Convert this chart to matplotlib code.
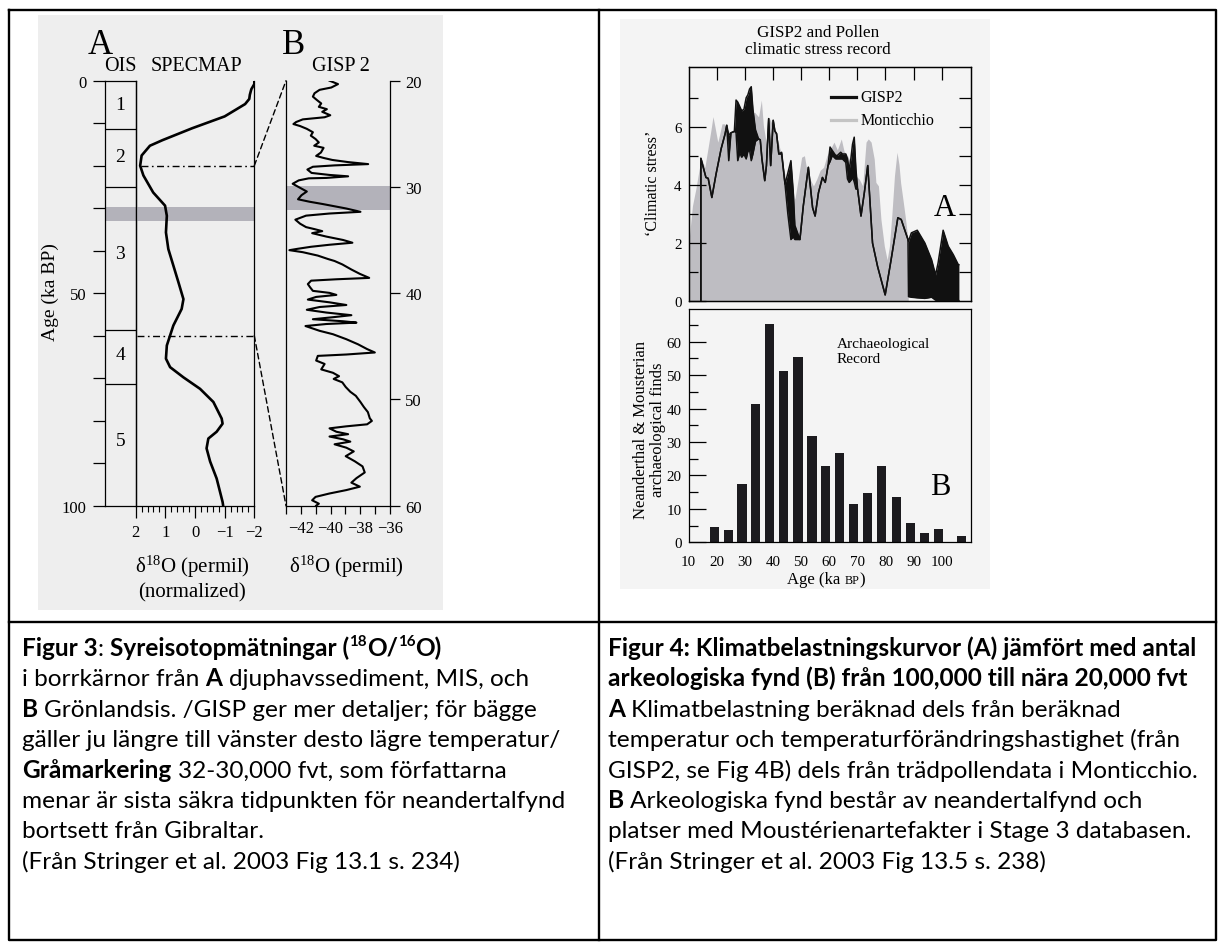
import matplotlib
matplotlib.use("Agg")
import matplotlib.pyplot as plt
from matplotlib.patches import Rectangle, ConnectionPatch
from matplotlib.lines import Line2D
from matplotlib.transforms import IdentityTransform
from matplotlib.font_manager import FontProperties
from matplotlib.ticker import MultipleLocator, FixedLocator

# ---------------- data ----------------
# Figure 3A: OIS stages and SPECMAP curve (age ka, d18O normalized)
OIS_BOUNDS = [11.4, 24.9, 58.6, 71.4]
OIS_LABELS = [("1", 5.6), ("2", 17.8), ("3", 40.7), ("4", 64.5), ("5", 84.6)]
GRAY_BAND_A = (29.6, 32.9)
GRAY_BAND_B = (29.9, 32.2)
SPECMAP = [(0, -2.0), (0.8, -2.0), (2.0, -1.9), (3.3, -1.85), (4.3, -1.83), (5.5, -1.69),
           (8.4, -1.0), (11.2, 0.1), (14.0, 1.1), (15.3, 1.52), (17.6, 1.80), (20.0, 1.85),
           (22.3, 1.74), (24.0, 1.6), (26.3, 1.41), (29.4, 1.01), (31.8, 0.95), (35.7, 0.98),
           (39.6, 0.90), (43.5, 0.73), (47.4, 0.56), (51.4, 0.39), (53.7, 0.45), (57.6, 0.73),
           (62.3, 0.95), (65.4, 0.98), (67.4, 0.84), (69.8, 0.39), (72.5, -0.17), (75.6, -0.62),
           (79.5, -0.90), (80.7, -0.93), (82.6, -0.73), (84.2, -0.45), (86.5, -0.39),
           (89.6, -0.51), (93.6, -0.73), (99.1, -0.93), (100.0, -0.95)]
# Figure 3B: GISP2 d18O (age ka, permil)
GISP_B = [(20.00, -40.07), (20.32, -39.50), (20.64, -39.95), (20.86, -40.74), (21.18, -41.08),
          (21.50, -41.19), (21.82, -40.92), (22.14, -40.63), (22.46, -40.79), (22.68, -40.25),
          (22.93, -40.56), (23.25, -40.02), (23.44, -40.40), (23.57, -41.31), (23.64, -41.87),
          (23.89, -42.32), (24.08, -42.50), (24.27, -42.05), (24.53, -41.60), (24.85, -41.19),
          (25.17, -41.33), (25.49, -41.01), (25.81, -40.79), (26.12, -41.10), (26.32, -40.47),
          (26.76, -40.65), (27.08, -40.97), (27.27, -40.47), (27.46, -39.88), (27.66, -38.82),
          (27.85, -37.47), (27.97, -39.73), (28.10, -41.19), (28.36, -41.56), (28.68, -41.28),
          (28.87, -40.07), (29.00, -38.82), (29.15, -40.29), (29.19, -41.47), (29.38, -42.14),
          (29.70, -42.55), (30.02, -42.14), (30.43, -41.60), (30.78, -41.96), (31.16, -42.19),
          (31.39, -41.42), (31.61, -40.52), (32.03, -38.94), (32.34, -37.99), (32.50, -40.07),
          (32.70, -41.65), (33.08, -42.37), (33.46, -42.05), (33.78, -41.65), (33.97, -41.08),
          (34.16, -40.56), (34.35, -41.24), (34.67, -40.29), (34.99, -39.16), (35.25, -38.53),
          (35.44, -40.07), (35.63, -41.31), (35.82, -42.21), (35.95, -42.77), (36.14, -41.87),
          (36.46, -40.86), (36.78, -40.18), (36.97, -39.73), (37.29, -39.21), (37.77, -38.60),
          (38.18, -38.03), (38.56, -37.40), (38.69, -39.61), (38.82, -41.31), (39.14, -41.53),
          (39.46, -41.37), (39.78, -41.19), (39.97, -40.07), (40.16, -39.61), (40.35, -40.97),
          (40.60, -41.53), (40.86, -40.07), (41.11, -38.94), (41.30, -40.74), (41.56, -41.60),
          (41.82, -40.29), (42.07, -38.60), (42.26, -39.84), (42.45, -41.19), (42.64, -39.16),
          (42.77, -38.26), (42.90, -40.29), (43.09, -41.69), (43.54, -40.74), (43.86, -39.84),
          (44.33, -38.94), (44.81, -38.15), (45.26, -37.54), (45.58, -37.02), (45.77, -38.94),
          (45.90, -40.86), (46.34, -40.97), (46.66, -40.40), (47.17, -40.63), (47.49, -39.84),
          (47.81, -39.43), (48.07, -39.79), (48.39, -39.21), (48.83, -38.98), (49.28, -38.67),
          (49.66, -38.30), (50.24, -37.99), (50.71, -37.76), (51.19, -37.49), (51.77, -37.36),
          (52.02, -37.22), (52.34, -37.54), (52.53, -38.94), (52.72, -40.07), (53.04, -39.61),
          (53.27, -38.82), (53.49, -40.07), (53.75, -39.16), (53.97, -38.67), (54.22, -39.73),
          (54.54, -38.94), (54.89, -38.44), (55.34, -38.98), (55.82, -38.37), (56.30, -37.85),
          (56.87, -37.70), (57.41, -38.26), (57.83, -38.60), (58.21, -38.03), (58.53, -38.94),
          (58.85, -40.07), (59.17, -41.01), (59.49, -41.24), (59.81, -40.79), (60.00, -40.97)]

# Figure 4A: climatic stress. GISP2 band (age, upper, lower); Monticchio (age, value)
GISP2_STRESS = [(14.4, 0.0, 0.0), (14.4, 4.91, 4.91), (16.2, 4.25, 4.25), (17.0, 4.22, 4.22),
                (18.3, 3.56, 3.56), (19.8, 4.37, 4.37), (21.6, 5.24, 5.24), (23.0, 5.75, 5.75),
                (23.6, 6.05, 6.05), (24.3, 5.70, 4.83), (25.1, 5.79, 5.79), (26.3, 5.84, 5.84),
                (26.9, 6.92, 5.80), (27.5, 6.85, 4.83), (28.2, 6.70, 5.10), (28.9, 6.55, 4.95),
                (29.7, 6.60, 5.05), (30.5, 7.00, 4.89), (31.1, 7.10, 5.15), (31.7, 7.30, 5.20),
                (32.3, 7.38, 4.83), (32.9, 6.60, 5.06), (33.8, 5.90, 5.50), (34.9, 5.58, 5.58),
                (35.5, 5.55, 5.55), (36.1, 4.89, 4.89), (37.1, 4.14, 4.14), (37.7, 4.66, 4.66),
                (38.5, 6.28, 6.28), (39.2, 4.66, 4.66), (40.1, 6.22, 6.22), (40.7, 5.85, 5.85),
                (41.3, 5.76, 5.76), (42.1, 5.06, 5.06), (43.1, 5.12, 5.06), (44.3, 4.02, 4.02),
                (45.3, 4.40, 3.00), (46.4, 4.83, 2.11), (47.2, 3.80, 2.20), (47.8, 2.60, 2.11),
                (49.6, 2.11, 2.11), (50.8, 3.27, 3.27), (52.6, 4.60, 4.60), (54.1, 3.21, 3.21),
                (55.0, 2.92, 2.92), (56.2, 3.73, 3.73), (57.6, 4.25, 4.25), (58.6, 4.08, 4.08),
                (59.6, 4.66, 4.66), (60.3, 5.30, 4.80), (61.1, 5.18, 5.01), (62.3, 5.01, 4.89),
                (62.9, 5.01, 4.89), (64.1, 5.12, 4.89), (64.7, 5.06, 4.89), (65.9, 5.06, 4.77),
                (66.5, 4.89, 4.20), (67.1, 4.50, 4.08), (67.7, 4.89, 4.15), (68.3, 5.40, 4.25),
                (68.9, 5.64, 4.10), (69.5, 4.54, 3.85), (70.1, 3.85, 3.85), (71.3, 2.92, 2.92),
                (72.5, 3.73, 3.73), (73.7, 4.66, 4.66), (74.3, 3.73, 3.73), (75.4, 1.99, 1.99),
                (77.2, 1.18, 1.18), (79.9, 0.20, 0.20), (82.0, 1.41, 1.41), (84.4, 2.86, 2.86),
                (85.6, 2.80, 2.80), (88.0, 2.11, 2.11), (88.2, 2.05, 0.14), (89.2, 2.34, 0.12),
                (91.3, 2.43, 0.10), (94.0, 1.99, 0.08), (96.4, 1.41, 0.12), (97.8, 0.89, 0.02),
                (98.7, 1.30, 0.0), (100.5, 2.43, 0.0), (102.3, 1.88, 0.0), (104.1, 1.59, 0.0),
                (105.9, 1.24, 0.0), (106.1, 1.24, 0.0)]
MONTICCHIO = [(9.4, 0.83), (10.2, 2.1), (11.4, 3.27), (12.6, 3.85), (13.8, 4.54), (14.6, 4.9),
              (15.8, 4.6), (17.0, 5.3), (18.0, 5.9), (18.7, 6.35), (19.4, 6.0), (20.4, 5.47),
              (21.1, 5.75), (21.9, 6.1), (22.8, 6.1), (23.9, 5.9), (25.1, 5.76), (26.3, 5.9),
              (28.1, 6.3), (29.9, 6.2), (31.7, 6.4), (33.5, 6.5), (34.9, 6.34), (35.9, 6.92),
              (36.6, 6.05), (37.7, 5.4), (38.9, 6.28), (40.1, 6.0), (41.3, 5.70), (42.5, 5.24),
              (43.7, 4.66), (44.9, 4.0), (46.1, 4.89), (46.7, 4.0), (47.8, 3.5), (49.0, 4.2),
              (50.2, 4.95), (51.2, 5.0), (52.0, 4.54), (53.2, 4.19), (54.4, 3.96), (55.6, 4.2),
              (56.8, 4.5), (58.0, 4.6), (59.2, 5.0), (60.5, 5.24), (61.7, 5.47), (62.9, 5.2),
              (64.3, 5.58), (65.3, 5.15), (66.5, 5.0), (68.3, 4.66), (69.5, 4.3), (70.7, 4.19),
              (71.9, 3.96), (73.1, 5.47), (73.9, 5.58), (74.9, 5.47), (76.0, 4.89), (76.6, 4.08),
              (77.5, 3.96), (78.4, 2.80), (79.6, 1.88), (80.6, 1.41), (81.4, 1.88), (82.3, 3.0),
              (83.2, 4.31), (84.1, 5.12), (84.8, 4.7), (85.4, 4.06), (86.2, 3.5), (87.0, 2.92),
              (88.0, 2.11), (88.1, 0.0)]
# Figure 4B: archaeological finds
BAR_AGE = [19.2, 24.1, 29.0, 33.9, 38.8, 43.8, 48.9, 53.9, 58.8, 63.7, 68.7, 73.7, 78.7,
           83.8, 88.8, 93.8, 98.8, 107.1]
BAR_N = [4.5, 3.6, 17.5, 41.5, 65.3, 51.3, 55.5, 31.7, 22.7, 26.8, 11.5, 14.8, 22.8, 13.6,
         5.8, 2.9, 3.9, 1.8]

# captions: (text, bold, superscript)
CAP_LEFT = [
    [("Figur 3", True, False), (": ", False, False), ("Syreisotopmätningar (", True, False),
     ("18", True, True), ("O/", True, False), ("16", True, True), ("O)", True, False)],
    [("i borrkärnor från ", False, False), ("A", True, False), (" djuphavssediment, MIS, och", False, False)],
    [("B", True, False), (" Grönlandsis. /GISP ger mer detaljer; för bägge", False, False)],
    [("gäller ju längre till vänster desto lägre temperatur/", False, False)],
    [("Gråmarkering", True, False), (" 32-30,000 fvt, som författarna", False, False)],
    [("menar är sista säkra tidpunkten för neandertalfynd", False, False)],
    [("bortsett från Gibraltar.", False, False)],
    [("(Från Stringer et al. 2003 Fig 13.1 s. 234)", False, False)],
]
CAP_RIGHT = [
    [("Figur 4: Klimatbelastningskurvor (A) jämfört med antal", True, False)],
    [("arkeologiska fynd (B) från 100,000 till nära 20,000 fvt", True, False)],
    [("A", True, False), (" Klimatbelastning beräknad dels från beräknad", False, False)],
    [("temperatur och temperaturförändringshastighet (från", False, False)],
    [("GISP2, se Fig 4B) dels från trädpollendata i Monticchio.", False, False)],
    [("B", True, False), (" Arkeologiska fynd består av neandertalfynd och", False, False)],
    [("platser med Moustérienartefakter i Stage 3 databasen.", False, False)],
    [("(Från Stringer et al. 2003 Fig 13.5 s. 238)", False, False)],
]

# ---------------- setup ----------------
SERIF = "Liberation Serif"
SANS = "Lato"
plt.rcParams["font.family"] = [SERIF, "DejaVu Serif"]
plt.rcParams["mathtext.fontset"] = "custom"
plt.rcParams["mathtext.rm"] = SERIF
plt.rcParams["mathtext.it"] = SERIF + ":italic"
plt.rcParams["mathtext.bf"] = SERIF + ":bold"

W, H = 1224, 945
fig = plt.figure(figsize=(W / 100, H / 100), dpi=100)
fig.patch.set_facecolor("white")
renderer = fig.canvas.get_renderer()


def px_ax(x0, y0, x1, y1):
    ax = fig.add_axes([x0 / W, 1 - y1 / H, (x1 - x0) / W, (y1 - y0) / H])
    ax.set_facecolor("none")
    for s in ax.spines.values():
        s.set_linewidth(0.9)
    return ax


def ftext(x, y, s, **kw):
    return fig.text(x / W, 1 - y / H, s, **kw)


def fline(xs, ys, **kw):
    fig.add_artist(Line2D([x / W for x in xs], [1 - y / H for y in ys],
                          transform=fig.transFigure, **kw))


def frect(x0, y0, x1, y1, color):
    fig.add_artist(Rectangle((x0 / W, 1 - y1 / H), (x1 - x0) / W, (y1 - y0) / H,
                             transform=fig.transFigure, facecolor=color,
                             edgecolor="none", zorder=-5))


def tw(s, fp):
    return renderer.get_text_width_height_descent(s, fp, ismath=False)[0]


def adv(s, fp):
    return tw("|" + s + "|", fp) - tw("||", fp)


def draw_runs(x, yb, runs, family, base_size, center=False):
    """runs: (text, bold, superscript, size_factor); x,y in pixels from top-left."""
    items = []
    total = 0.0
    for text, bold, sup, fac in runs:
        size = base_size * fac
        fp = FontProperties(family=family, weight="bold" if bold else "normal", size=size)
        stripped = text.lstrip(" ")
        lead = text[: len(text) - len(stripped)]
        lw_ = adv(lead, fp) if lead else 0.0
        w = adv(stripped, fp)
        items.append((lw_, stripped, fp, sup, w))
        total += lw_ + w
    if center:
        x -= total / 2
    for lw_, stripped, fp, sup, w in items:
        x += lw_
        dy = base_size * 100 / 72 * 0.42 if sup else 0
        fig.text(x, H - yb + dy, stripped, fontproperties=fp, ha="left", va="baseline",
                 transform=IdentityTransform())
        x += w


# scanned picture backgrounds
frect(37.5, 15.8, 442.7, 610.7, "#eeeeee")
frect(620, 20, 990, 590, "#f4f4f4")

# table borders
BW = 1.7
fline([8.5, 1216, 1216, 8.5, 8.5], [11, 11, 941, 941, 11], color="k", lw=BW)
fline([598.5, 598.5], [11, 941], color="k", lw=BW)
fline([8.5, 1216], [622.5, 622.5], color="k", lw=BW)

BAND = "#b3b2ba"
TFS = 12

# ---------------- Figure 3 ----------------
ax_ois = px_ax(105, 81.7, 135.7, 506.7)
ax_ois.set_xlim(0, 1)
ax_ois.set_ylim(100, 0)
ax_ois.set_xticks([])
ax_ois.yaxis.set_major_locator(FixedLocator(list(range(0, 101, 10))))
ax_ois.set_yticklabels(["0", "", "", "", "", "50", "", "", "", "", "100"])
ax_ois.tick_params(axis="y", direction="out", length=8.5, width=0.9, labelsize=TFS, pad=5)
for b in OIS_BOUNDS:
    ax_ois.axhline(b, color="k", lw=0.9)
for lab, age in OIS_LABELS:
    ax_ois.text(0.5, age, lab, transform=ax_ois.get_yaxis_transform(), ha="center",
                va="center", fontsize=14)
ax_ois.axhspan(*GRAY_BAND_A, color=BAND, lw=0, zorder=0.5)

ax_spec = px_ax(135.7, 81.7, 254.3, 506.7)
ax_spec.set_xlim(2, -2)
ax_spec.set_ylim(100, 0)
ax_spec.spines["top"].set_visible(False)
ax_spec.set_yticks([])
ax_spec.set_xticks([2, 1, 0, -1, -2])
ax_spec.set_xticklabels(["2", "1", "0", "\u22121", "\u22122"])
ax_spec.xaxis.set_minor_locator(MultipleLocator(0.2))
ax_spec.tick_params(axis="x", which="major", direction="out", length=8.5, width=0.9,
                    labelsize=TFS, pad=5)
ax_spec.tick_params(axis="x", which="minor", direction="out", length=4, width=0.8)
ax_spec.axhspan(*GRAY_BAND_A, color=BAND, lw=0, zorder=0.5)
ax_spec.plot([v for a, v in SPECMAP], [a for a, v in SPECMAP], color="k", lw=1.9,
             solid_capstyle="round", zorder=3)
DASHDOT = (0, (5, 2.5, 1.2, 2.5))
ax_spec.plot([1.83, -2], [20, 20], color="k", lw=1.0, ls=DASHDOT, zorder=2)
ax_spec.plot([1.95, -2], [60, 60], color="k", lw=1.0, ls=DASHDOT, zorder=2)

ax_g = px_ax(286, 81.7, 390, 506.7)
ax_g.set_xlim(-43, -36)
ax_g.set_ylim(60, 20)
ax_g.spines["top"].set_visible(False)
ax_g.yaxis.tick_right()
ax_g.set_yticks([20, 30, 40, 50, 60])
ax_g.tick_params(axis="y", direction="out", length=7, width=0.9, labelsize=TFS, pad=4)
ax_g.set_xticks([-42, -40, -38, -36])
ax_g.set_xticklabels(["\u221242", "\u221240", "\u221238", "\u221236"])
ax_g.xaxis.set_minor_locator(FixedLocator([-43, -41, -39, -37]))
ax_g.tick_params(axis="x", which="both", direction="out", length=6, width=0.9,
                 labelsize=TFS, pad=4)
ax_g.axhspan(*GRAY_BAND_B, color=BAND, lw=0, zorder=0.5)
ax_g.plot([v for a, v in GISP_B], [a for a, v in GISP_B], color="k", lw=1.5, zorder=3,
          solid_joinstyle="round")

for ya in (20, 60):
    cp = ConnectionPatch(xyA=(-2, ya), coordsA=ax_spec.transData, xyB=(-43, ya),
                         coordsB=ax_g.transData, color="k", lw=1.0, ls=(0, (4, 2.5)))
    fig.add_artist(cp)

ftext(100, 45, "A", fontsize=25, ha="center", va="center")
ftext(293.3, 45, "B", fontsize=25, ha="center", va="center")
ftext(120, 66.7, "OIS", fontsize=14.5, ha="center", va="center")
ftext(196.7, 66.7, "SPECMAP", fontsize=14.5, ha="center", va="center")
ftext(340.7, 66.7, "GISP 2", fontsize=14.5, ha="center", va="center")
ftext(50.6, 292, "Age (ka BP)", fontsize=14, rotation=90, ha="center", va="center")
ftext(192.3, 566.7, r"δ$^{18}$O (permil)", fontsize=15, ha="center", va="center")
ftext(192.3, 593.3, "(normalized)", fontsize=15, ha="center", va="center")
ftext(346, 566.7, r"δ$^{18}$O (permil)", fontsize=15, ha="center", va="center")

# ---------------- Figure 4 ----------------
XL = (10, 110.4)
RFS = 10.8
ax_a = px_ax(688.5, 68.3, 971, 301.7)
ax_a.set_xlim(*XL)
ax_a.set_ylim(0, 8.05)
ax_a.fill_between([a for a, v in MONTICCHIO], 0, [v for a, v in MONTICCHIO],
                  color="#bebdc2", lw=0, zorder=1)
ga = [t[0] for t in GISP2_STRESS]
ghi = [t[1] for t in GISP2_STRESS]
glo = [t[2] for t in GISP2_STRESS]
ax_a.fill_between(ga, glo, ghi, color="#111111", lw=0, zorder=2)
ax_a.plot(ga, ghi, color="#111111", lw=1.1, zorder=3)
ax_a.plot(ga, glo, color="#111111", lw=1.1, zorder=3)
ax_a.set_yticks([0, 2, 4, 6])
ax_a.yaxis.set_minor_locator(FixedLocator([1, 3, 5, 7]))
ax_a.tick_params(axis="y", which="major", direction="in", length=12.2, width=0.9,
                 labelsize=RFS, pad=5)
ax_a.tick_params(axis="y", which="minor", direction="in", length=6.5, width=0.9)
ax_a.set_xticks(list(range(20, 101, 10)))
ax_a.tick_params(axis="x", direction="in", length=9.4, width=0.9, top=True, bottom=False,
                 labeltop=False, labelbottom=False)
ax_a2 = ax_a.twinx()
ax_a2.set_ylim(0, 8.05)
ax_a2.set_yticks(list(range(1, 8)))
ax_a2.tick_params(axis="y", direction="in", length=8.6, width=0.9, labelright=False)
for s in ax_a2.spines.values():
    s.set_linewidth(0.9)
# legend
ax_a.plot([0.504, 0.592], [0.871, 0.871], transform=ax_a.transAxes, color="#111111", lw=2.3)
ax_a.plot([0.504, 0.592], [0.776, 0.776], transform=ax_a.transAxes, color="#c4c4c4", lw=2.3)
ax_a.text(0.61, 0.871, "GISP2", transform=ax_a.transAxes, fontsize=11.5, va="center")
ax_a.text(0.61, 0.776, "Monticchio", transform=ax_a.transAxes, fontsize=11.5, va="center")

ax_b = px_ax(688.5, 310, 971, 543.3)
ax_b.set_xlim(*XL)
ax_b.set_ylim(0, 69.8)
ax_b.bar(BAR_AGE, BAR_N, width=3.3, color="#1c1b1f", lw=0)
ax_b.set_yticks(list(range(0, 61, 10)))
ax_b.yaxis.set_minor_locator(FixedLocator(list(range(5, 70, 10))))
ax_b.tick_params(axis="y", which="major", direction="in", length=12.2, width=0.9,
                 labelsize=RFS, pad=5)
ax_b.tick_params(axis="y", which="minor", direction="in", length=6.5, width=0.9)
ax_b.set_xticks(list(range(10, 101, 10)))
ax_b.tick_params(axis="x", direction="in", length=0, labelsize=RFS, pad=9)
ax_b.xaxis.set_minor_locator(FixedLocator(list(range(20, 101, 10))))
ax_b.tick_params(axis="x", which="minor", direction="in", length=8.6, width=0.9,
                 top=True, bottom=False)

ftext(818, 33.3, "GISP2 and Pollen", fontsize=12.3, ha="center", va="center")
ftext(818, 50.5, "climatic stress record", fontsize=12.3, ha="center", va="center")
ftext(653.3, 183, "\u2018Climatic stress\u2019", fontsize=11.5, rotation=90, ha="center", va="center")
ftext(649.5, 430, "Neanderthal & Mousterian\narchaeological finds", fontsize=12,
      rotation=90, ha="center", va="center", linespacing=1.1)
ftext(836.7, 344.3, "Archaeological", fontsize=11, ha="left", va="center")
ftext(836.7, 360, "Record", fontsize=11, ha="left", va="center")
ftext(945, 209, "A", fontsize=22, ha="center", va="center")
ftext(940, 488, "B", fontsize=22, ha="center", va="center")
draw_runs(826, 584, [("Age (ka ", False, False, 1.0), ("BP", False, False, 0.72),
                     (")", False, False, 1.0)], SERIF, 12, center=True)

# ---------------- captions ----------------
CAP_FS = 17.6
BASE0 = 656
STEP = 30.4
for i, runs in enumerate(CAP_LEFT):
    draw_runs(22, BASE0 + i * STEP, [(t, b, s, 0.62 if s else 1.0) for t, b, s in runs],
              SANS, CAP_FS)
for i, runs in enumerate(CAP_RIGHT):
    draw_runs(608, BASE0 + i * STEP, [(t, b, s, 0.62 if s else 1.0) for t, b, s in runs],
              SANS, CAP_FS)

fig.savefig("out.png", dpi=100)
